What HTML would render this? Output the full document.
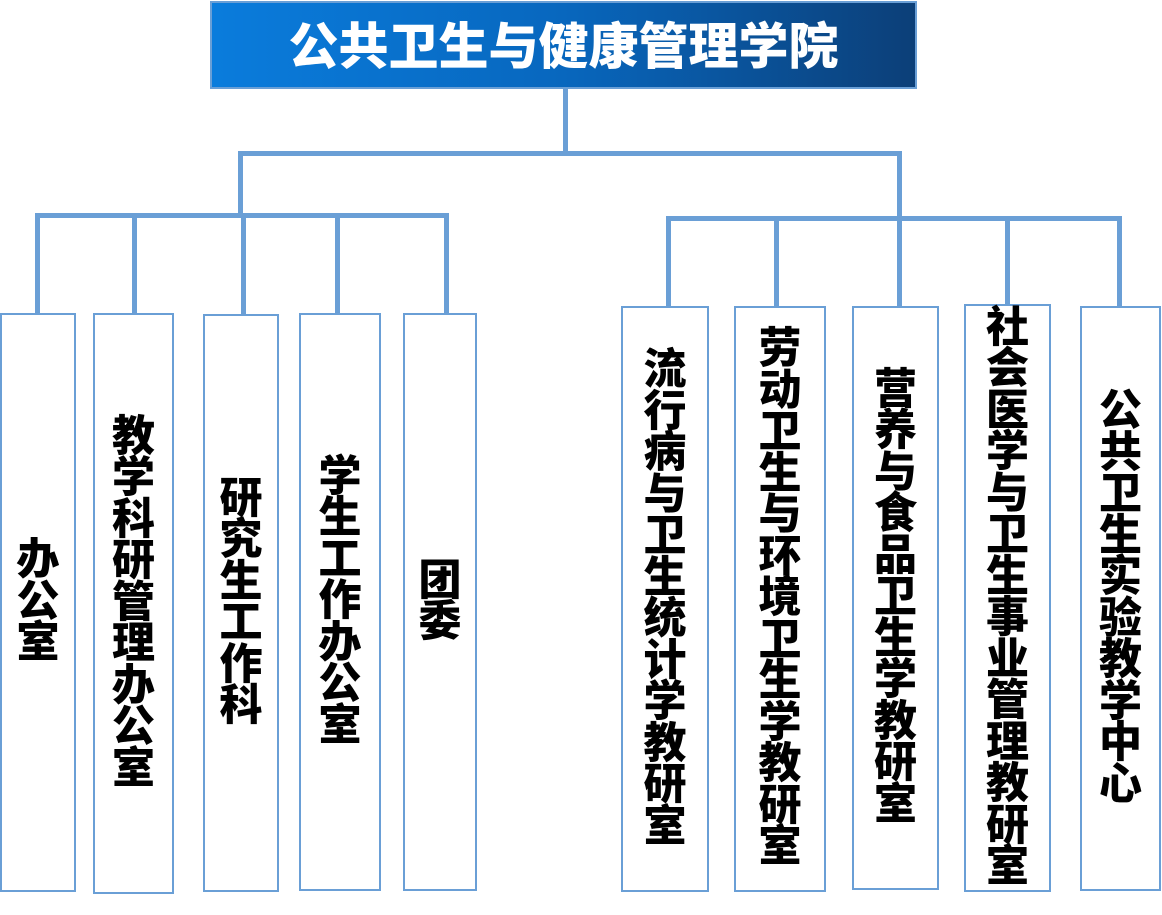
<!DOCTYPE html>
<html><head><meta charset="utf-8"><style>
body{margin:0;width:1162px;height:915px;background:#fff;position:relative;overflow:hidden;font-family:"Liberation Sans","Noto Sans CJK SC",sans-serif}
.t{position:absolute;left:210px;top:1px;width:703px;height:84px;border:2px solid #6a9fd6;background:linear-gradient(90deg,#0a7cdc 0%,#0867be 50%,#0c3f78 100%);color:#fff;font-weight:900;font-size:50px;text-align:center;line-height:88px;letter-spacing:0px}
.l{position:absolute;background:#6a9fd6}
.b{position:absolute;border:2px solid #6a9fd6;box-sizing:border-box;display:flex;align-items:center;justify-content:center;font-weight:900;font-size:43px;line-height:41.5px;color:#000;text-align:center}
</style></head><body>
<div class="t">公共卫生与健康管理学院</div>
<div class="l" style="left:563px;top:88px;width:5px;height:67px"></div>
<div class="l" style="left:238px;top:151px;width:664px;height:5px"></div>
<div class="l" style="left:238px;top:151px;width:5px;height:66px"></div>
<div class="l" style="left:897px;top:151px;width:5px;height:68px"></div>
<div class="l" style="left:35px;top:213px;width:414px;height:5px"></div>
<div class="l" style="left:35px;top:213px;width:5px;height:100px"></div>
<div class="l" style="left:132px;top:213px;width:5px;height:100px"></div>
<div class="l" style="left:241px;top:213px;width:5px;height:101px"></div>
<div class="l" style="left:335px;top:213px;width:5px;height:100px"></div>
<div class="l" style="left:444px;top:213px;width:5px;height:100px"></div>
<div class="l" style="left:666px;top:216px;width:456px;height:5px"></div>
<div class="l" style="left:666px;top:216px;width:5px;height:90px"></div>
<div class="l" style="left:774px;top:216px;width:5px;height:90px"></div>
<div class="l" style="left:897px;top:216px;width:5px;height:90px"></div>
<div class="l" style="left:1005px;top:216px;width:5px;height:88px"></div>
<div class="l" style="left:1117px;top:216px;width:5px;height:90px"></div>
<div class="b" style="left:0;top:313px;width:76px;height:579px">办<br>公<br>室</div>
<div class="b" style="left:93px;top:313px;width:81px;height:581px">教<br>学<br>科<br>研<br>管<br>理<br>办<br>公<br>室</div>
<div class="b" style="left:203px;top:314px;width:76px;height:578px">研<br>究<br>生<br>工<br>作<br>科</div>
<div class="b" style="left:299px;top:313px;width:82px;height:578px">学<br>生<br>工<br>作<br>办<br>公<br>室</div>
<div class="b" style="left:403px;top:313px;width:74px;height:578px">团<br>委</div>
<div class="b" style="left:621px;top:306px;width:88px;height:586px">流<br>行<br>病<br>与<br>卫<br>生<br>统<br>计<br>学<br>教<br>研<br>室</div>
<div class="b" style="left:734px;top:306px;width:92px;height:586px">劳<br>动<br>卫<br>生<br>与<br>环<br>境<br>卫<br>生<br>学<br>教<br>研<br>室</div>
<div class="b" style="left:852px;top:306px;width:87px;height:584px">营<br>养<br>与<br>食<br>品<br>卫<br>生<br>学<br>教<br>研<br>室</div>
<div class="b" style="left:964px;top:304px;width:87px;height:588px">社<br>会<br>医<br>学<br>与<br>卫<br>生<br>事<br>业<br>管<br>理<br>教<br>研<br>室</div>
<div class="b" style="left:1080px;top:306px;width:81px;height:585px">公<br>共<br>卫<br>生<br>实<br>验<br>教<br>学<br>中<br>心</div>
</body></html>
